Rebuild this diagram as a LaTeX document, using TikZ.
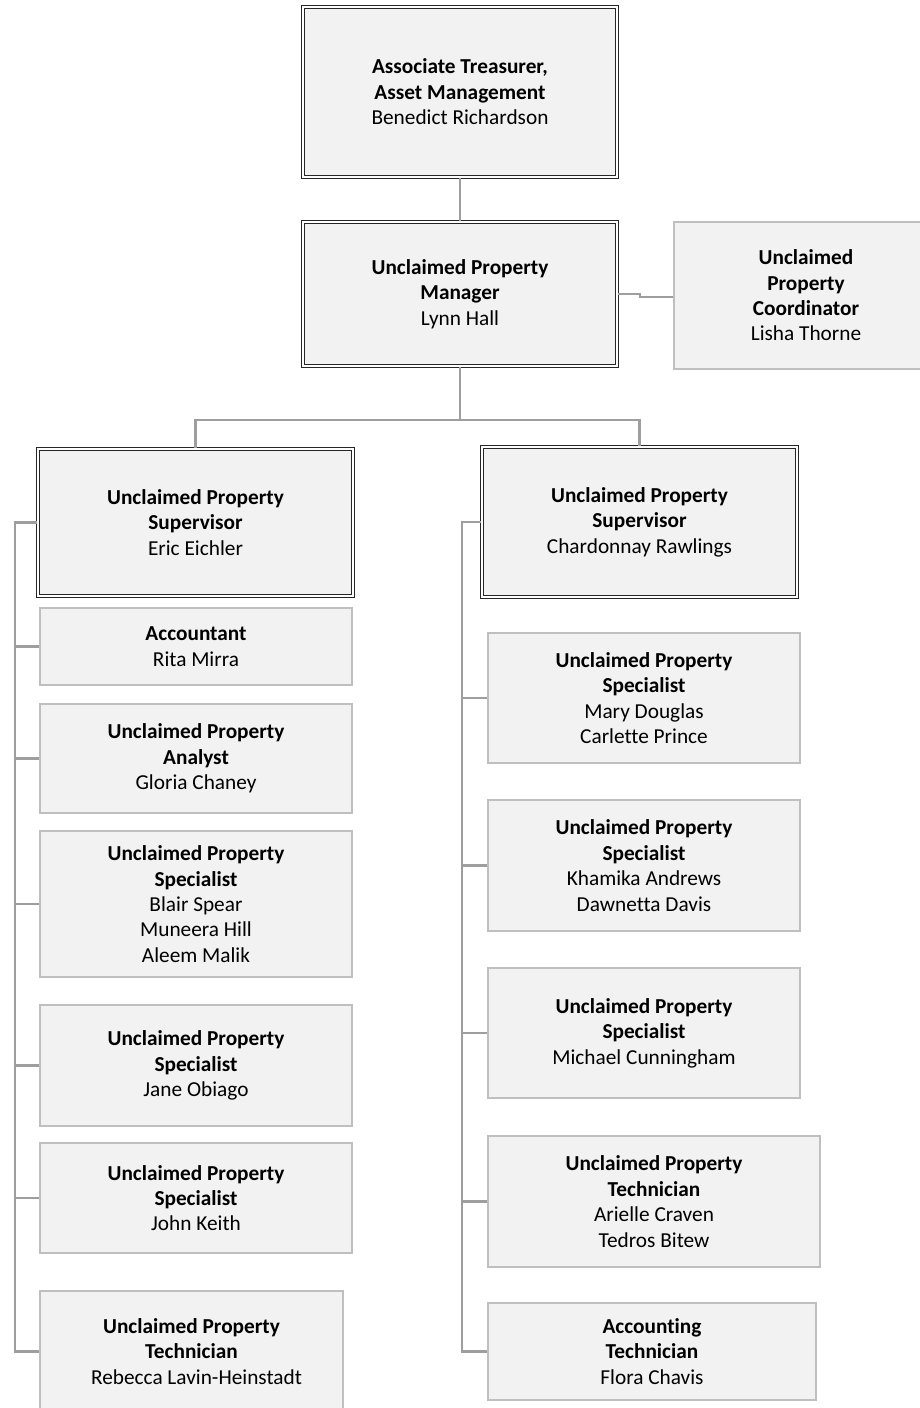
\documentclass[tikz,border=0pt]{standalone}
\usepackage{fontspec}
\setmainfont{Carlito}[Ligatures=NoCommon]
\begin{document}
\begin{tikzpicture}[x=1pt,y=1pt,
  every node/.style={font=\fontsize{21.3}{25.4}\selectfont, align=center, inner sep=0pt},
  card/.style={draw=black!25, line width=1.4pt, fill=black!5, rectangle},
  headcard/.style={draw=black!85, line width=1.5pt, double=white, double distance=1.2pt, fill=black!5, rectangle},
  link/.style={draw=black!38, line width=2.6pt}]
\useasboundingbox (0,0) rectangle (919,-1408);

% management chain
\node[headcard, minimum width=314, minimum height=170] (top) at (460,-92)
  {\textbf{Associate Treasurer,}\\\textbf{Asset Management}\\Benedict Richardson};
\node[headcard, minimum width=314, minimum height=144] (mgr) at (460,-294)
  {\textbf{Unclaimed Property}\\\textbf{Manager}\\Lynn Hall};
\node[card, minimum width=264, minimum height=147] (coord) at (806,-295.5)
  {\textbf{Unclaimed}\\\textbf{Property}\\\textbf{Coordinator}\\Lisha Thorne};

% supervisors
\node[headcard, minimum width=315, minimum height=147] (supL) at (195.5,-522.5)
  {\textbf{Unclaimed Property}\\\textbf{Supervisor}\\Eric Eichler};
\node[headcard, minimum width=315, minimum height=150] (supR) at (639.5,-522)
  {\textbf{Unclaimed Property}\\\textbf{Supervisor}\\Chardonnay Rawlings};

% left team
\node[card, minimum width=312, minimum height=77] (l1) at (196,-646.5)
  {\textbf{Accountant}\\Rita Mirra};
\node[card, minimum width=312, minimum height=109] (l2) at (196,-758.5)
  {\textbf{Unclaimed Property}\\\textbf{Analyst}\\Gloria Chaney};
\node[card, minimum width=312, minimum height=146] (l3) at (196,-904)
  {\textbf{Unclaimed Property}\\\textbf{Specialist}\\Blair Spear\\Muneera Hill\\Aleem Malik};
\node[card, minimum width=312, minimum height=121] (l4) at (196,-1065.5)
  {\textbf{Unclaimed Property}\\\textbf{Specialist}\\Jane Obiago};
\node[card, minimum width=312, minimum height=110] (l5) at (196,-1198)
  {\textbf{Unclaimed Property}\\\textbf{Specialist}\\John Keith};
\node[card, minimum width=303, minimum height=121] (l6) at (191.5,-1351.5)
  {\textbf{Unclaimed Property}\\\textbf{Technician}\\\hspace*{10pt}Rebecca Lavin-Heinstadt};

% right team
\node[card, minimum width=312, minimum height=130] (r1) at (644,-698)
  {\textbf{Unclaimed Property}\\\textbf{Specialist}\\Mary Douglas\\Carlette Prince};
\node[card, minimum width=312, minimum height=131] (r2) at (644,-865.5)
  {\textbf{Unclaimed Property}\\\textbf{Specialist}\\Khamika Andrews\\Dawnetta Davis};
\node[card, minimum width=312, minimum height=130] (r3) at (644,-1033)
  {\textbf{Unclaimed Property}\\\textbf{Specialist}\\Michael Cunningham};
\node[card, minimum width=332, minimum height=131] (r4) at (654,-1201.5)
  {\textbf{Unclaimed Property}\\\textbf{Technician}\\Arielle Craven\\Tedros Bitew};
\node[card, minimum width=328, minimum height=97] (r5) at (652,-1351.5)
  {\textbf{Accounting}\\\textbf{Technician}\\Flora Chavis};

% connector helpers
\coordinate (j1) at (640,-294);
\coordinate (j2) at (640,-297);
\coordinate (split) at (460,-420);
\coordinate (busL) at (15,0);
\coordinate (busR) at (462,0);

\draw[link] (top.south) -- (mgr.north);
\draw[link] (mgr.east |- j1) -- (j1) -- (j2) -- (coord.west |- j2);
\draw[link] (mgr.south) -- (split);
\draw[link] (supL.north) -- (supL.north |- split) -- (supR.north |- split) -- (supR.north);

\draw[link] (supL.west) -- (supL.west -| busL) -- (l6.west -| busL) -- (l6.west);
\foreach \n in {l1,l2,l3,l4,l5}
  \draw[link] (\n.west) -- (\n.west -| busL);

\draw[link] (supR.west) -- (supR.west -| busR) -- (r5.west -| busR) -- (r5.west);
\foreach \n in {r1,r2,r3,r4}
  \draw[link] (\n.west) -- (\n.west -| busR);
\end{tikzpicture}
\end{document}
